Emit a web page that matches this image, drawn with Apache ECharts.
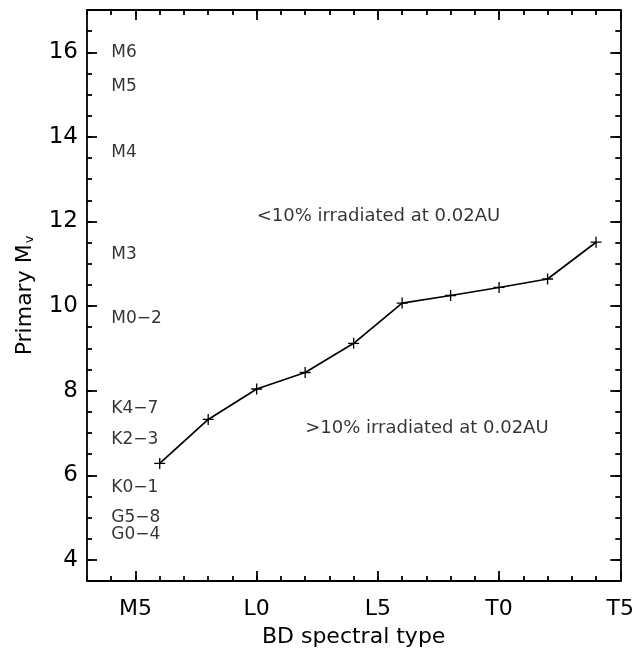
<!DOCTYPE html>
<html>
<head>
<meta charset="utf-8">
<script src="https://cdn.jsdelivr.net/npm/echarts@6/dist/echarts.min.js"></script>
<style>
html,body{margin:0;padding:0;background:#fff;}
#chart{width:637px;height:653px;}
</style>
</head>
<body>
<div id="chart"></div>
<script>
// BD spectral type as number: M5=-5, L0=0, L5=5, T0=10, T5=15
const bdType = [-4, -2, 0, 2, 4, 6, 8, 10, 12, 14];
const primaryMv = [6.28, 7.32, 8.04, 8.43, 9.12, 10.07, 10.25, 10.44, 10.64, 11.51];

const xTickValues = [-5, 0, 5, 10, 15];
const xTickLabels = ['M5', 'L0', 'L5', 'T0', 'T5'];
const yTickValues = [4, 6, 8, 10, 12, 14, 16];

const primaryTypeNames = ['M6', 'M5', 'M4', 'M3', 'M0\u22122', 'K4\u22127', 'K2\u22123', 'K0\u22121', 'G5\u22128', 'G0\u22124'];
const primaryTypeMv = [16.0, 15.18, 13.62, 11.22, 9.70, 7.57, 6.84, 5.71, 5.01, 4.60];
const primaryTypeX = -6;

const noteTexts = ['<10% irradiated at 0.02AU', '>10% irradiated at 0.02AU'];
const noteX = [0, 2];
const noteY = [12.12, 7.1];

const FONT = 'DejaVu Sans';
const xMin = -7, xMax = 15, yMin = 3.5, yMax = 17;
const lineStyle = {color: '#000', width: 1.8};

function xAxisDef(pos, major, labels) {
  return {
    type: 'value', position: pos, min: xMin, max: xMax,
    interval: 1,
    axisLine: {show: !major, onZero: false, lineStyle: lineStyle},
    axisTick: major ? {show: true, inside: true, length: 10, lineStyle: lineStyle, customValues: xTickValues}
                    : {show: true, inside: true, length: 5, lineStyle: lineStyle},
    axisLabel: labels ? {show: true, customValues: xTickValues, margin: 17, color: '#000', fontFamily: FONT, fontSize: 22,
      formatter: v => { const i = xTickValues.indexOf(v); return i >= 0 ? xTickLabels[i] : ''; }} : {show: false},
    splitLine: {show: false},
    name: labels ? 'BD spectral type' : '',
    nameLocation: 'middle', nameGap: 45,
    nameTextStyle: {color: '#000', fontFamily: FONT, fontSize: 22}
  };
}
function yAxisDef(pos, major, labels) {
  return {
    type: 'value', position: pos, min: yMin, max: yMax,
    interval: 0.5,
    axisLine: {show: !major, onZero: false, lineStyle: lineStyle},
    axisTick: major ? {show: true, inside: true, length: 10, lineStyle: lineStyle, customValues: yTickValues}
                    : {show: true, inside: true, length: 5, lineStyle: lineStyle},
    axisLabel: labels ? {show: true, customValues: yTickValues, margin: 9, color: '#000', fontFamily: FONT, fontSize: 23,
      formatter: v => String(v)} : {show: false},
    splitLine: {show: false},
    name: labels ? 'Primary M{s|v}' : '',
    nameLocation: 'middle', nameGap: 51, nameRotate: 90,
    nameTextStyle: {color: '#000', fontFamily: FONT, fontSize: 22,
      rich: {s: {fontFamily: FONT, fontSize: 13, color: '#000', verticalAlign: 'bottom', padding: [0,0,0,1]}}}
  };
}

const chart = echarts.init(document.getElementById('chart'), null, {renderer: 'canvas'});
chart.setOption({
  animation: false,
  backgroundColor: '#fff',
  grid: {left: 87, right: 13, top: 10, bottom: 68, containLabel: false},
  xAxis: [xAxisDef('bottom', false, false), xAxisDef('bottom', true, true), xAxisDef('top', false, false), xAxisDef('top', true, false)],
  yAxis: [yAxisDef('left', false, false), yAxisDef('left', true, true), yAxisDef('right', false, false), yAxisDef('right', true, false)],
  series: [
    {
      type: 'line', xAxisIndex: 0, yAxisIndex: 0,
      data: bdType.map((x, i) => [x, primaryMv[i]]),
      lineStyle: {color: '#000', width: 1.7},
      symbol: 'path://M4.4,0H5.6V4.4H10V5.6H5.6V10H4.4V5.6H0V4.4H4.4Z',
      symbolSize: 11,
      itemStyle: {color: '#000'},
      z: 5
    },
    {
      type: 'scatter', xAxisIndex: 0, yAxisIndex: 0,
      symbolSize: 0,
      data: primaryTypeNames.map((n, i) => ({name: n, value: [primaryTypeX, primaryTypeMv[i]]})),
      label: {show: true, position: 'right', distance: 0, formatter: '{b}', color: '#000', fontFamily: FONT, fontSize: 17}
    },
    {
      type: 'scatter', xAxisIndex: 0, yAxisIndex: 0,
      symbolSize: 0,
      data: noteTexts.map((n, i) => ({name: n, value: [noteX[i], noteY[i]]})),
      label: {show: true, position: 'right', distance: 0, formatter: '{b}', color: '#000', fontFamily: FONT, fontSize: 18}
    }
  ]
});
</script>
</body>
</html>
